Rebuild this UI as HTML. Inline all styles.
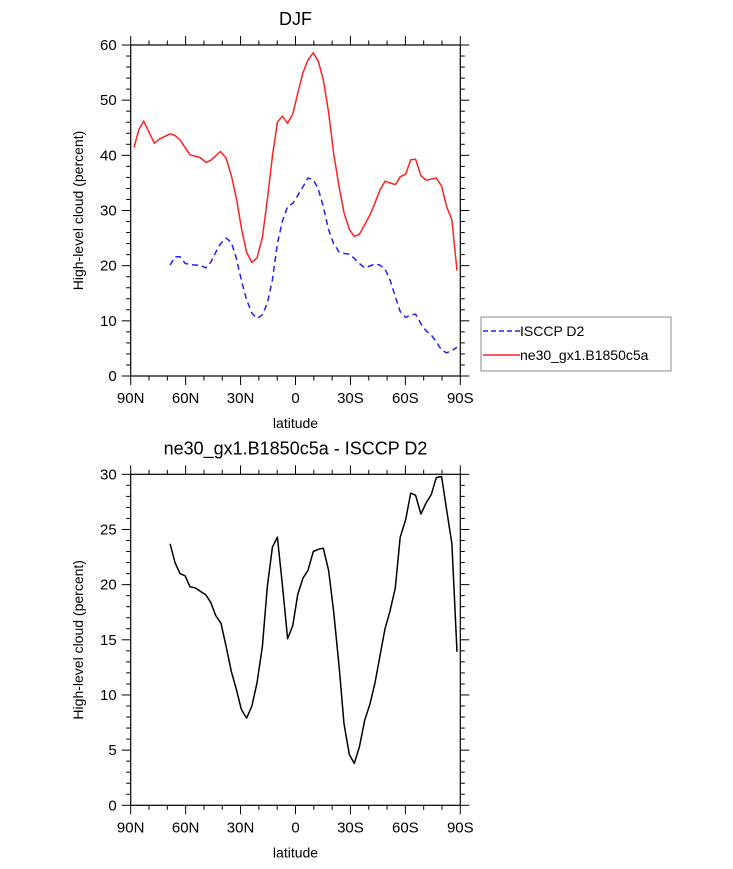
<!DOCTYPE html>
<html><head><meta charset="utf-8"><style>
body{margin:0;background:#fff;}
svg{display:block;font-family:"Liberation Sans",sans-serif;}
</style></head><body>
<svg id="chart" width="733" height="869" viewBox="0 0 733 869" xmlns="http://www.w3.org/2000/svg">
<g id="top"></g>
<g id="bot"></g>
<g>
<rect x="481" y="317" width="190" height="54" fill="#fff" stroke="#888" stroke-width="1"/>
<line x1="483" y1="331" x2="520" y2="331" stroke="#2020ff" stroke-width="1.5" stroke-dasharray="5,3"/>
<text x="520" y="336" font-size="14">ISCCP D2</text>
<line x1="483" y1="355" x2="520" y2="355" stroke="#ff2020" stroke-width="1.5"/>
<text x="520" y="360" font-size="14">ne30_gx1.B1850c5a</text>
</g>
</svg>
<script>
const xTickLabels=["90N","60N","30N","0","30S","60S","90S"];
const redLat=[88.2,85.5,82.9,77.1,74.0,68.5,65.8,63.1,57.6,52.1,48.9,46.3,40.9,37.9,35.0,32.1,29.4,26.7,23.8,21.0,18.1,15.2,12.6,9.9,7.2,4.3,1.5,-1.2,-4.1,-6.8,-9.7,-12.5,-15.2,-18.1,-20.8,-23.8,-26.5,-29.4,-32.1,-34.9,-37.8,-40.7,-43.4,-46.1,-48.9,-54.5,-57.2,-60.2,-62.9,-65.6,-68.5,-71.3,-76.9,-79.8,-82.5,-85.4,-88.2];
const redVal=[41.4,44.7,46.2,42.2,43.0,43.9,43.6,42.8,40.1,39.6,38.7,39.1,40.7,39.5,36.3,31.9,26.5,22.4,20.6,21.4,25.1,32.5,39.8,46.0,47.1,45.8,47.5,51.2,55.0,57.3,58.6,57.0,53.7,47.8,40.4,34.3,29.6,26.6,25.3,25.7,27.4,29.2,31.4,33.7,35.3,34.7,36.1,36.6,39.2,39.3,36.3,35.5,35.9,34.4,30.7,28.3,19.1];
const blueLat=[68.5,65.8,63.1,60.2,54.7,52.0,49.1,46.3,43.6,40.9,37.9,35.0,32.3,29.6,26.7,23.8,21.0,18.1,15.4,12.6,9.9,7.2,4.3,1.5,-1.2,-4.1,-6.8,-9.7,-12.5,-15.2,-18.1,-20.8,-23.8,-26.5,-29.4,-32.1,-34.9,-37.8,-43.4,-46.1,-48.9,-51.6,-54.5,-57.2,-60.2,-62.9,-65.6,-68.5,-71.3,-74.2,-76.9,-79.8,-82.5,-85.4,-88.2];
const blueVal=[20.1,21.6,21.6,20.4,20.1,20.1,19.6,20.6,22.4,24.0,25.0,24.2,21.3,17.4,13.8,11.4,10.4,11.1,13.2,17.4,24.0,28.0,30.7,31.3,32.7,34.3,35.9,35.6,33.8,30.7,26.5,24.0,22.5,22.2,22.1,21.3,20.4,19.6,20.3,20.1,19.4,17.4,14.4,11.7,10.6,11.1,11.2,9.5,8.2,7.4,6.2,4.7,4.2,4.6,5.2];
const diffLat=[68.5,65.8,63.1,60.3,57.6,54.7,52.0,49.1,46.3,43.6,40.7,37.9,35.0,32.3,29.6,26.7,23.8,21.0,18.1,15.4,12.6,9.9,7.0,4.3,1.5,-1.2,-4.1,-6.8,-9.7,-12.5,-15.2,-18.1,-20.8,-23.8,-26.5,-29.4,-32.1,-34.9,-37.8,-40.7,-43.4,-46.1,-48.9,-51.6,-54.5,-57.2,-60.2,-62.9,-65.6,-68.5,-71.3,-74.2,-76.9,-79.8,-82.5,-85.4,-88.2];
const diffVal=[23.7,22.0,21.0,20.8,19.8,19.7,19.4,19.1,18.4,17.2,16.5,14.4,12.1,10.5,8.7,7.9,9.0,11.1,14.4,19.8,23.4,24.3,19.7,15.1,16.3,19.1,20.6,21.3,23.0,23.2,23.3,21.3,17.6,12.6,7.4,4.6,3.8,5.3,7.7,9.2,11.1,13.5,16.0,17.6,19.7,24.3,25.9,28.3,28.1,26.4,27.4,28.2,29.7,29.8,26.8,23.7,13.9];
const topYTicks=[0,10,20,30,40,50,60];
const botYTicks=[0,5,10,15,20,25,30];

const NS="http://www.w3.org/2000/svg";
const X0=130.7,X1=460.3;
function xs(lat){return X0+(90-lat)/180*(X1-X0);}
function mk(p,tag,at){const e=document.createElementNS(NS,tag);for(const k in at)e.setAttribute(k,at[k]);p.appendChild(e);return e;}
function panel(g,yTop,yBot,ymax,minorStep,yticks,title,name){
  const ys=v=>yBot-(v/ymax)*(yBot-yTop);
  const ax=mk(g,'g',{});
  
  
  // ticks
  for(let lat=90;lat>=-90;lat-=10){
    const maj=lat%30===0, L=maj?9:4.5, x=xs(lat);
    const t1=mk(ax,'line',{x1:x,y1:yBot,x2:x,y2:yBot+L,stroke:'#000','stroke-width':1});
    
    
    const t2=mk(ax,'line',{x1:x,y1:yTop,x2:x,y2:yTop-L,stroke:'#000','stroke-width':1});
    
    
  }
  for(let v=0;v<=ymax+1e-9;v+=minorStep){
    const maj=Math.abs(v/(ymax/6)-Math.round(v/(ymax/6)))<1e-6, L=maj?9:4.5, y=ys(v);
    const t1=mk(ax,'line',{x1:X0,y1:y,x2:X0-L,y2:y,stroke:'#000','stroke-width':1});
    
    
    const t2=mk(ax,'line',{x1:X1,y1:y,x2:X1+L,y2:y,stroke:'#000','stroke-width':1});
    
    
  }
  const r=mk(ax,'rect',{x:X0,y:yTop,width:X1-X0,height:yBot-yTop,fill:'none',stroke:'#000','stroke-width':1.2});
  
  
  xTickLabels.forEach((s,i)=>{
    const t=mk(ax,'text',{x:xs(90-30*i),y:yBot+27,'font-size':15,'text-anchor':'middle'});t.textContent=s;
    
    
  });
  yticks.forEach(v=>{
    const t=mk(ax,'text',{x:X0-14,y:ys(v)+5,'font-size':15,'text-anchor':'end'});t.textContent=v;
    
    
  });
  const xl=mk(ax,'text',{x:(X0+X1)/2,y:yBot+52,'font-size':14,'text-anchor':'middle'});xl.textContent='latitude';
  
  
  const cy=(yTop+yBot)/2;
  const yl=mk(ax,'text',{x:83,y:cy,'font-size':14,'text-anchor':'middle',transform:`rotate(-90 83 ${cy})`});yl.textContent='High-level cloud (percent)';
  
  
  const tt=mk(ax,'text',{x:(X0+X1)/2,y:yTop-20,'font-size':18,'text-anchor':'middle'});tt.textContent=title;
  
  
  return ys;
}
function series(g,ys,lat,val,color,dash,name){
  const d=lat.map((l,i)=>(i?'L':'M')+xs(l).toFixed(1)+','+ys(val[i]).toFixed(1)).join('');
  const p=mk(g,'path',{d:d,fill:'none',stroke:color,'stroke-width':1.5,'stroke-linejoin':'round'});
  if(dash)p.setAttribute('stroke-dasharray',dash);
  
  
}
const gT=document.getElementById('top'), gB=document.getElementById('bot');
const ysT=panel(gT,45,376,60,2,topYTicks,'DJF','top');
series(gT,ysT,blueLat,blueVal,'#2020ff','6,4','isccp-line');
series(gT,ysT,redLat,redVal,'#ff2020',null,'model-line');
const ysB=panel(gB,474.3,805.3,30,1,botYTicks,'ne30_gx1.B1850c5a - ISCCP D2','bottom');
series(gB,ysB,diffLat,diffVal,'#000',null,'difference-line');
</script>
</body></html>
